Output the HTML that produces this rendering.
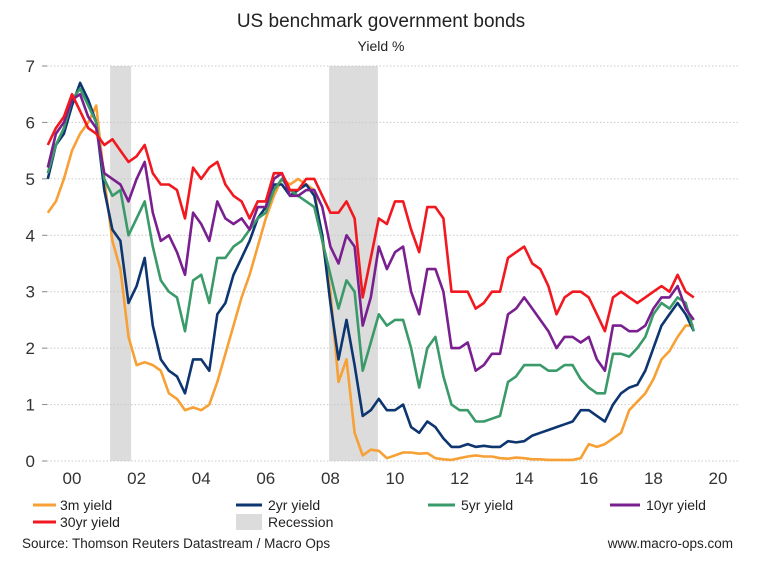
<!DOCTYPE html>
<html><head><meta charset="utf-8">
<style>
body{margin:0;background:#fff;width:762px;height:572px;overflow:hidden;font-family:"Liberation Sans",Arial,sans-serif;}
svg text{font-family:"Liberation Sans",Arial,sans-serif;}
</style></head>
<body>
<svg id="chart" width="762" height="572">
<text x="381" y="27" text-anchor="middle" font-size="19" fill="#222">US benchmark government bonds</text>
<text x="381" y="51" text-anchor="middle" font-size="14" fill="#222">Yield %</text>
<g id="recess"></g><g id="grid"></g><g id="lines"></g><g id="axes"></g>
<g font-size="14" fill="#222">
<line x1="33" y1="505" x2="56" y2="505" stroke="#f7a035" stroke-width="3"/><text x="60" y="510">3m yield</text>
<line x1="236" y1="505" x2="262" y2="505" stroke="#0d3570" stroke-width="3"/><text x="268" y="510">2yr yield</text>
<line x1="428" y1="505" x2="455" y2="505" stroke="#3a9a6a" stroke-width="3"/><text x="461" y="510">5yr yield</text>
<line x1="610" y1="505" x2="640" y2="505" stroke="#7a1f8f" stroke-width="3"/><text x="646" y="510">10yr yield</text>
<line x1="33" y1="522" x2="56" y2="522" stroke="#f2181f" stroke-width="3"/><text x="60" y="527">30yr yield</text>
<rect x="236" y="514" width="26" height="16" fill="#dcdcdc"/><text x="268" y="527">Recession</text>
</g>
<text x="22" y="548" font-size="13.5" fill="#222">Source: Thomson Reuters Datastream / Macro Ops</text>
<text x="733" y="548" text-anchor="end" font-size="13.5" fill="#222">www.macro-ops.com</text>
</svg>
<script>
const startYear = 1999.25, step = 0.25;
const yTicks = [0,1,2,3,4,5,6,7];
const xTickYears = [2000,2002,2004,2006,2008,2010,2012,2014,2016,2018,2020];
const xTickLabels = ["00","02","04","06","08","10","12","14","16","18","20"];
const recessions = [[2001.18,2001.83],[2007.96,2009.47]];
const y3m = [4.4,4.6,5.0, 5.5,5.8,6.0,6.3, 5.0,3.9,3.4,2.2, 1.7,1.75,1.7,1.6, 1.2,1.1,0.9,0.95, 0.9,1.0,1.4,1.9, 2.4,2.9,3.3,3.8, 4.3,4.7,5.0,4.9, 5.0,4.9,4.8,3.9, 3.0,1.4,1.8,0.5, 0.1,0.2,0.18,0.05, 0.1,0.15,0.15,0.13, 0.14,0.05,0.03,0.02, 0.05,0.08,0.1,0.08, 0.08,0.05,0.04,0.06, 0.05,0.03,0.03,0.02, 0.02,0.02,0.02,0.05, 0.3,0.25,0.3,0.4, 0.5,0.9,1.05,1.2, 1.45,1.8,1.95,2.2, 2.4,2.4];
const y2 = [5.0,5.6,5.8, 6.3,6.7,6.4,6.0, 4.8,4.1,3.9,2.8, 3.1,3.6,2.4,1.8, 1.6,1.5,1.2,1.8, 1.8,1.6,2.6,2.8, 3.3,3.6,3.9,4.3, 4.5,4.9,4.9,4.7, 4.8,4.9,4.7,4.0, 2.8,1.8,2.5,1.7, 0.8,0.9,1.1,0.9, 0.9,1.0,0.6,0.5, 0.7,0.6,0.4,0.25, 0.25,0.3,0.25,0.27, 0.25,0.25,0.35,0.33, 0.35,0.45,0.5,0.55, 0.6,0.65,0.7,0.9, 0.9,0.8,0.7,1.0, 1.2,1.3,1.35,1.6, 2.0,2.4,2.6,2.8, 2.6,2.3];
const y5 = [5.1,5.6,5.9, 6.4,6.6,6.3,6.0, 5.0,4.7,4.8,4.0, 4.3,4.6,3.8,3.2, 3.0,2.9,2.3,3.2, 3.3,2.8,3.6,3.6, 3.8,3.9,4.1,4.3, 4.4,4.8,5.0,4.8, 4.7,4.6,4.5,3.9, 3.3,2.7,3.2,3.0, 1.6,2.1,2.6,2.4, 2.5,2.5,2.0,1.3, 2.0,2.2,1.5,1.0, 0.9,0.9,0.7,0.7, 0.75,0.8,1.4,1.5, 1.7,1.7,1.7,1.6, 1.6,1.7,1.7,1.45, 1.3,1.2,1.2,1.9, 1.9,1.85,2.0,2.2, 2.6,2.8,2.7,2.9, 2.8,2.3];
const y10 = [5.2,5.8,6.0, 6.4,6.5,6.1,5.9, 5.1,5.0,4.9,4.6, 5.0,5.3,4.4,3.9, 4.0,3.7,3.3,4.4, 4.2,3.9,4.6,4.3, 4.2,4.3,4.1,4.5, 4.5,5.0,5.1,4.7, 4.7,4.8,4.8,4.5, 3.8,3.5,4.0,3.8, 2.4,2.9,3.8,3.4, 3.7,3.8,3.0,2.6, 3.4,3.4,3.0,2.0, 2.0,2.1,1.6,1.7, 1.9,1.9,2.6,2.7, 2.9,2.7,2.5,2.3, 2.0,2.2,2.2,2.1, 2.2,1.8,1.6,2.4, 2.4,2.3,2.3,2.4, 2.7,2.9,2.9,3.1, 2.7,2.5];
const y30 = [5.6,5.9,6.1, 6.5,6.2,5.9,5.8, 5.6,5.7,5.5,5.3, 5.4,5.6,5.1,4.9, 4.9,4.8,4.3,5.2, 5.0,5.2,5.3,4.9, 4.7,4.6,4.3,4.6, 4.6,5.1,5.1,4.8, 4.8,5.0,5.0,4.7, 4.4,4.4,4.6,4.3, 2.9,3.6,4.3,4.2, 4.6,4.6,4.1,3.7, 4.5,4.5,4.3,3.0, 3.0,3.0,2.7,2.8, 3.0,3.0,3.6,3.7, 3.8,3.5,3.4,3.1, 2.6,2.9,3.0,3.0, 2.9,2.6,2.3,2.9, 3.0,2.9,2.8,2.9, 3.0,3.1,3.0,3.3, 3.0,2.9];

const NS='http://www.w3.org/2000/svg';
const xS = yr => 72 + (yr-2000)*32.3;
const yS = v => 461 - v*56.43;
function mk(tag, attrs, parent){const e=document.createElementNS(NS,tag);for(const k in attrs)e.setAttribute(k,attrs[k]);parent.appendChild(e);return e;}
const gR=document.getElementById('recess'), gG=document.getElementById('grid'), gL=document.getElementById('lines'), gA=document.getElementById('axes');
recessions.forEach((r,i)=>{
  const e=mk('rect',{x:xS(r[0]),y:yS(7),width:xS(r[1])-xS(r[0]),height:yS(0)-yS(7),fill:'#dcdcdc'},gR);
  
  
});
yTicks.forEach(v=>{
  const g=mk('line',{x1:47,x2:740,y1:yS(v),y2:yS(v),stroke:'#c8c8c8','stroke-width':1,'stroke-dasharray':'1.5,2'},gG);
  
  
  mk('line',{x1:42,x2:47,y1:yS(v),y2:yS(v),stroke:'#888'},gA);
  const t=mk('text',{x:35,y:yS(v)+6,'text-anchor':'end','font-size':17,fill:'#333'},gA);
  t.textContent=v;
  
  
});
xTickYears.forEach((yr,i)=>{
  const t=mk('text',{x:xS(yr),y:484,'text-anchor':'middle','font-size':17,fill:'#333'},gA);
  t.textContent=xTickLabels[i];
  
  
});
const series=[[y3m,'#f7a035','line-3m'],[y2,'#0d3570','line-2yr'],[y5,'#3a9a6a','line-5yr'],[y10,'#7a1f8f','line-10yr'],[y30,'#f2181f','line-30yr']];
series.forEach(s=>{
  const pts=s[0].map((v,i)=>xS(startYear+i*step).toFixed(1)+','+yS(v).toFixed(1)).join(' ');
  const p=mk('polyline',{points:pts,fill:'none',stroke:s[1],'stroke-width':2.6,'stroke-linejoin':'round'},gL);
  
  
});
</script>
</body></html>
